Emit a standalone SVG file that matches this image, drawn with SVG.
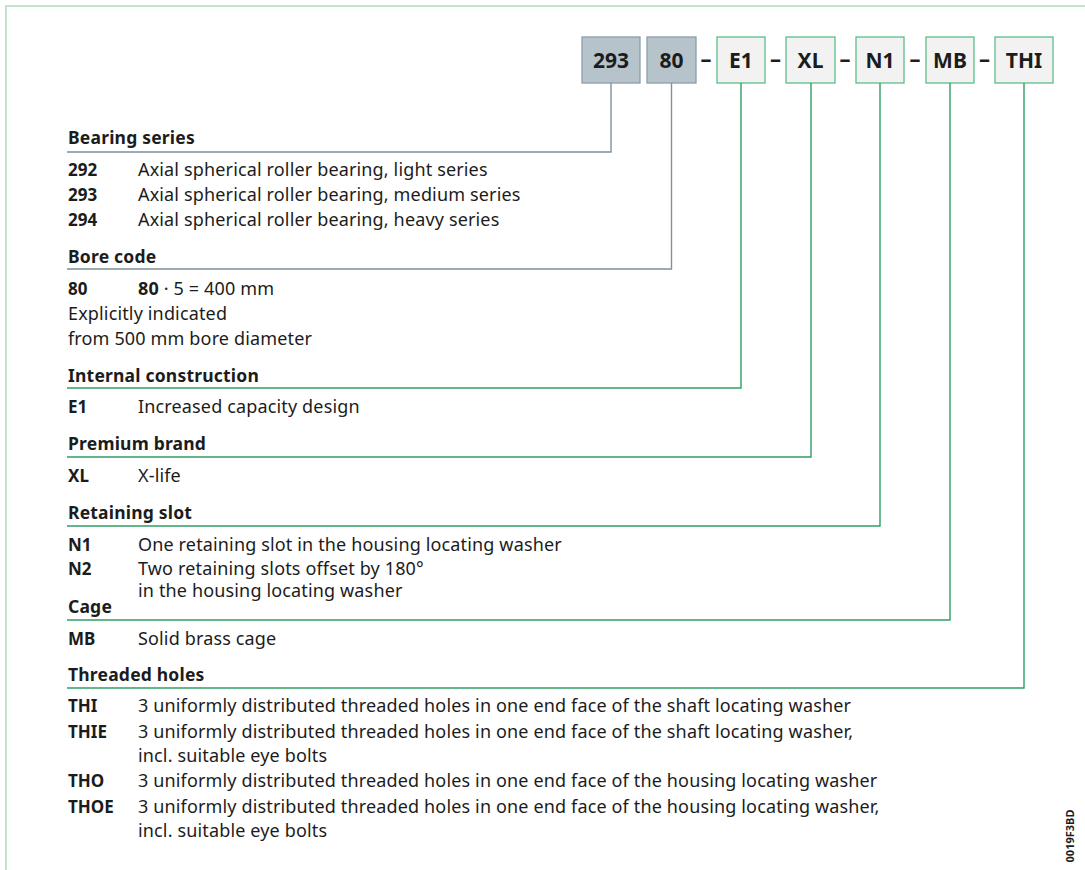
<svg xmlns="http://www.w3.org/2000/svg" width="1085" height="870" viewBox="0 0 1085 870">
  <style>
    text { font-family: "Noto Sans", "Open Sans", sans-serif; fill: #1c1c1c; }
    .hd { font-size: 17.5px; font-weight: bold; letter-spacing: 0.2px; }
    .cd { font-size: 17px; font-weight: bold; }
    .tx { font-size: 18px; letter-spacing: 0.15px; }
    .bx { font-size: 21px; font-weight: bold; text-anchor: middle; }
    .dash { font-size: 22px; font-weight: bold; text-anchor: middle; }
    .grey { fill: #b7c3ca; stroke: #8d9ea9; stroke-width: 1.3; }
    .opt { fill: #f2f2f2; stroke: #5dbd88; stroke-width: 1.3; }
    .lg { fill: none; stroke: #7e919c; stroke-width: 1.4; }
    .lp { fill: none; stroke: #2f9e63; stroke-width: 1.4; }
  </style>

  <!-- frame -->
  <path d="M6,870 V6 H1085" fill="none" stroke="#c2e2cd" stroke-width="2"/>

  <!-- designation boxes -->
  <g id="box-293"><rect class="grey" x="582" y="37" width="58" height="46"/><text class="bx" x="611" y="68">293</text></g>
  <g id="box-80"><rect class="grey" x="647" y="37" width="49" height="46"/><text class="bx" x="671.5" y="68">80</text></g>
  <g id="box-E1"><rect class="opt" x="717" y="37" width="48" height="46"/><text class="bx" x="741" y="68">E1</text></g>
  <g id="box-XL"><rect class="opt" x="786" y="37" width="49" height="46"/><text class="bx" x="810.5" y="68">XL</text></g>
  <g id="box-N1"><rect class="opt" x="856" y="37" width="48" height="46"/><text class="bx" x="880" y="68">N1</text></g>
  <g id="box-MB"><rect class="opt" x="926" y="37" width="48" height="46"/><text class="bx" x="950" y="68">MB</text></g>
  <g id="box-THI"><rect class="opt" x="995" y="37" width="58" height="46"/><text class="bx" x="1024" y="68">THI</text></g>

  <g id="dashes">
    <text class="dash" x="706" y="67">–</text>
    <text class="dash" x="775.5" y="67">–</text>
    <text class="dash" x="845" y="67">–</text>
    <text class="dash" x="915" y="67">–</text>
    <text class="dash" x="984.5" y="67">–</text>
  </g>

  <!-- leader lines -->
  <g id="connectors">
    <path class="lg" d="M611,83 V152 H67"/>
    <path class="lg" d="M671.5,83 V269 H67"/>
    <path class="lp" d="M741,83 V388 H67"/>
    <path class="lp" d="M811,83 V457 H67"/>
    <path class="lp" d="M880,83 V526 H67"/>
    <path class="lp" d="M950,83 V620 H67"/>
    <path class="lp" d="M1024,83 V688 H67"/>
  </g>

  <g id="bearing-series">
    <text class="hd" x="68" y="144">Bearing series</text>
    <text class="cd" x="68" y="176">292</text><text class="tx" x="138" y="176">Axial spherical roller bearing, light series</text>
    <text class="cd" x="68" y="201">293</text><text class="tx" x="138" y="201">Axial spherical roller bearing, medium series</text>
    <text class="cd" x="68" y="226">294</text><text class="tx" x="138" y="226">Axial spherical roller bearing, heavy series</text>
  </g>

  <g id="bore-code">
    <text class="hd" x="68" y="263">Bore code</text>
    <text class="cd" x="68" y="295">80</text><text class="tx" x="138" y="295"><tspan font-weight="bold">80</tspan> · 5 = 400 mm</text>
    <text class="tx" x="68" y="320">Explicitly indicated</text>
    <text class="tx" x="68" y="345">from 500 mm bore diameter</text>
  </g>

  <g id="internal-construction">
    <text class="hd" x="68" y="382">Internal construction</text>
    <text class="cd" x="68" y="413">E1</text><text class="tx" x="138" y="413">Increased capacity design</text>
  </g>

  <g id="premium-brand">
    <text class="hd" x="68" y="450">Premium brand</text>
    <text class="cd" x="68" y="482">XL</text><text class="tx" x="138" y="482">X-life</text>
  </g>

  <g id="retaining-slot">
    <text class="hd" x="68" y="519">Retaining slot</text>
    <text class="cd" x="68" y="551">N1</text><text class="tx" x="138" y="551">One retaining slot in the housing locating washer</text>
    <text class="cd" x="68" y="575">N2</text><text class="tx" x="138" y="575">Two retaining slots offset by 180°</text>
    <text class="tx" x="138" y="597">in the housing locating washer</text>
  </g>

  <g id="cage">
    <text class="hd" x="68" y="613">Cage</text>
    <text class="cd" x="68" y="645">MB</text><text class="tx" x="138" y="645">Solid brass cage</text>
  </g>

  <g id="threaded-holes">
    <text class="hd" x="68" y="681">Threaded holes</text>
    <text class="cd" x="68" y="712">THI</text><text class="tx" x="138" y="712">3 uniformly distributed threaded holes in one end face of the shaft locating washer</text>
    <text class="cd" x="68" y="738">THIE</text><text class="tx" x="138" y="738">3 uniformly distributed threaded holes in one end face of the shaft locating washer,</text>
    <text class="tx" x="138" y="762">incl. suitable eye bolts</text>
    <text class="cd" x="68" y="787">THO</text><text class="tx" x="138" y="787">3 uniformly distributed threaded holes in one end face of the housing locating washer</text>
    <text class="cd" x="68" y="813">THOE</text><text class="tx" x="138" y="813">3 uniformly distributed threaded holes in one end face of the housing locating washer,</text>
    <text class="tx" x="138" y="837">incl. suitable eye bolts</text>
  </g>

  <text x="1074" y="836" font-size="11" font-weight="bold" text-anchor="middle" transform="rotate(-90 1074 836)">0019F3BD</text>
</svg>
